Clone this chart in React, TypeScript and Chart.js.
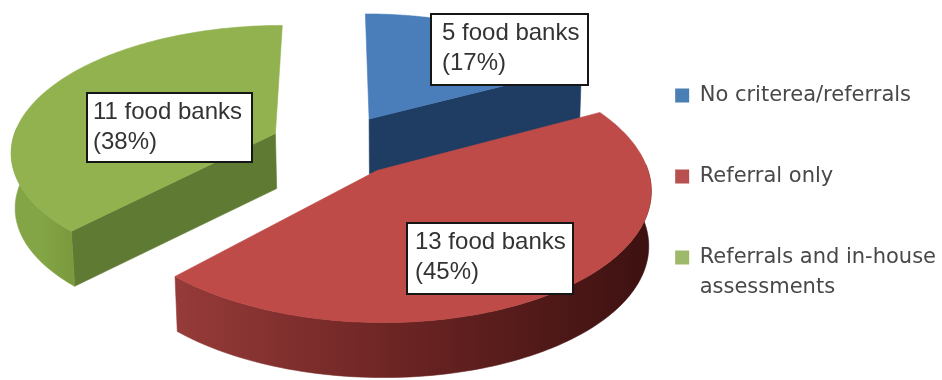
import React, { useEffect, useRef } from "react";
import { Chart, registerables } from "chart.js";

Chart.register(...registerables);

const categories = [
  "No criterea/referrals",
  "Referral only",
  ["Referrals and in-house", "assessments"],
];
const foodBanks = [5, 13, 11];
const topColors = ["#4a7ebb", "#be4b48", "#91b24f"];
const legendColors = ["#4a7fb5", "#b8504f", "#9fb96a"];
const cutFaceColors = ["#1f3d63", "#5c1c1b", "#5f7a33"];
const rimStops = [
  ["#1f3d63", "#1f3d63", "#1f3d63"],
  ["#963b39", "#692322", "#3c1110"],
  ["#84a546", "#84a546", "#7a9a3d"],
];
const labelBoxes = [
  { left: 431, top: 14, right: 588, bottom: 85, inset: 11 },
  { left: 407, top: 223, right: 573, bottom: 294, inset: 8 },
  { left: 87, top: 93, right: 252, bottom: 162, inset: 6 },
];
// Slices are painted back to front so the large front slice overlaps the others.
const paintOrder = [0, 2, 1];

// Oblique camera used to lay the pie flat, in pixels and unit-radius world space.
const camera = { cx: 336, cy: 145, rx: 264, ry: 125, perspective: 0.13, depth: 55, explode: 0.25 };
const wallVanishX = 400;

type Pt = { x: number; y: number };

function project(wx: number, wy: number): Pt {
  const w = 1 + camera.perspective * wy;
  return { x: camera.cx + (camera.rx * wx) / w, y: camera.cy - (camera.ry * wy) / w };
}

function lower(p: Pt): Pt {
  return { x: wallVanishX + (p.x - wallVanishX) * 0.99, y: p.y + camera.depth };
}

function fillPoly(ctx: CanvasRenderingContext2D, pts: Pt[], fill: string | CanvasGradient) {
  ctx.beginPath();
  pts.forEach((p, i) => (i ? ctx.lineTo(p.x, p.y) : ctx.moveTo(p.x, p.y)));
  ctx.closePath();
  ctx.fillStyle = fill;
  ctx.strokeStyle = fill;
  ctx.lineWidth = 0.6;
  ctx.fill();
  ctx.stroke();
}

function paintSlice(ctx: CanvasRenderingContext2D, arc: any, index: number, color: string) {
  const { startAngle, endAngle } = arc;
  const mid = (startAngle + endAngle) / 2;
  const ox = Math.cos(mid) * camera.explode;
  const oy = -Math.sin(mid) * camera.explode;
  const rim: Pt[] = [];
  const frontRim: Pt[] = [];
  const steps = 120;
  for (let i = 0; i <= steps; i++) {
    const a = startAngle + ((endAngle - startAngle) * i) / steps;
    const p = project(ox + Math.cos(a), oy - Math.sin(a));
    rim.push(p);
    // Only the part of the outer wall turned toward the viewer is painted.
    if (Math.sin(a) > -0.05) frontRim.push(p);
  }
  const apex = project(ox, oy);
  const first = rim[0];
  const last = rim[rim.length - 1];

  // Cut faces show only when they are turned toward the viewer.
  if (Math.cos(startAngle) < -0.01) {
    fillPoly(ctx, [apex, first, lower(first), lower(apex)], cutFaceColors[index]);
  }
  if (Math.cos(endAngle) > 0.01) {
    fillPoly(ctx, [apex, last, lower(last), lower(apex)], cutFaceColors[index]);
  }

  if (frontRim.length > 1) {
    const xs = frontRim.map((p) => p.x);
    const grad = ctx.createLinearGradient(Math.min(...xs), 0, Math.max(...xs), 0);
    rimStops[index].forEach((c, i, all) => grad.addColorStop(i / (all.length - 1), c));
    fillPoly(ctx, [...frontRim, ...frontRim.map(lower).reverse()], grad);
  }

  fillPoly(ctx, [apex, ...rim], color);
}

const pie3dPlugin = {
  id: "pie3d",
  beforeDatasetsDraw(chart: any) {
    const ctx = chart.ctx as CanvasRenderingContext2D;
    const meta = chart.getDatasetMeta(0);
    ctx.save();
    paintOrder.forEach((i) => paintSlice(ctx, meta.data[i], i, topColors[i]));
    ctx.restore();
    return false;
  },
  afterDraw(chart: any) {
    const ctx = chart.ctx as CanvasRenderingContext2D;
    const values: number[] = chart.data.datasets[0].data;
    const total = values.reduce((s, v) => s + v, 0);
    ctx.save();
    values.forEach((v, i) => {
      const b = labelBoxes[i];
      ctx.fillStyle = "#ffffff";
      ctx.fillRect(b.left, b.top, b.right - b.left, b.bottom - b.top);
      ctx.strokeStyle = "#161616";
      ctx.lineWidth = 2;
      ctx.strokeRect(b.left, b.top, b.right - b.left, b.bottom - b.top);
      ctx.fillStyle = "#333333";
      ctx.font = '24px "Liberation Sans"';
      ctx.textBaseline = "alphabetic";
      ctx.fillText(`${v} food banks`, b.left + b.inset, b.top + 26);
      ctx.fillText(`(${Math.round((v / total) * 100)}%)`, b.left + b.inset, b.top + 56);
    });
    ctx.restore();
  },
};

export default function App() {
  const ref = useRef<HTMLCanvasElement>(null);
  useEffect(() => {
    const chart = new Chart(ref.current!, {
      type: "pie",
      data: {
        labels: categories as any,
        datasets: [{ data: foodBanks, backgroundColor: topColors, borderWidth: 0 }],
      },
      options: {
        responsive: false,
        animation: false,
        layout: { padding: { top: 25, right: -4 } },
        plugins: {
          tooltip: { enabled: false },
          legend: {
            position: "right",
            align: "start",
            labels: {
              boxWidth: 14,
              boxHeight: 14,
              padding: 60,
              color: "#484848",
              font: { family: "DejaVu Sans", size: 21, lineHeight: 1.43 },
              generateLabels: () =>
                categories.map((text, i) => ({
                  text: text as any,
                  fillStyle: legendColors[i],
                  strokeStyle: legendColors[i],
                  lineWidth: 0,
                  index: i,
                  fontColor: "#484848",
                })),
            },
          },
        },
      },
      plugins: [pie3dPlugin],
    });
    return () => chart.destroy();
  }, []);
  return (
    <div style={{ position: "absolute", left: 0, top: 0, width: 942, height: 380 }}>
      <canvas ref={ref} width={942} height={380} style={{ display: "block" }} />
    </div>
  );
}
